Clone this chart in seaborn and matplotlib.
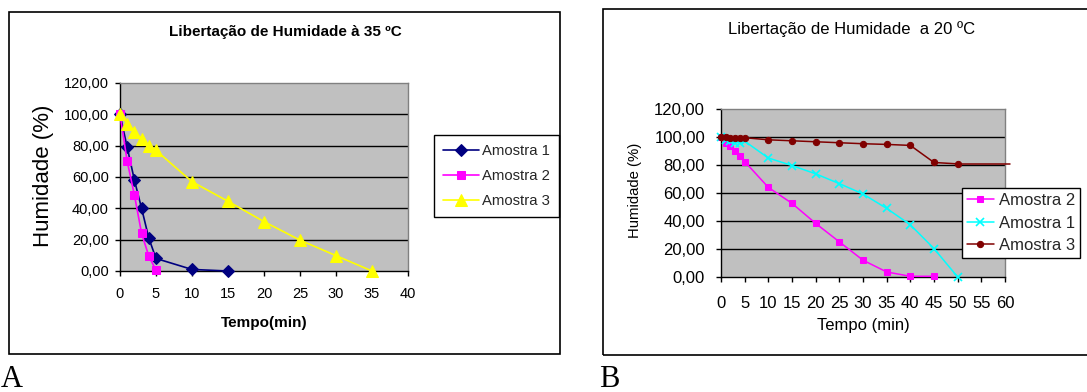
import matplotlib
matplotlib.use("Agg")
import matplotlib.pyplot as plt
from matplotlib.patches import Rectangle
from matplotlib.ticker import FuncFormatter
import seaborn as sns

sns.set_theme(style="white")
plt.rcParams['font.family'] = ['Liberation Sans', 'DejaVu Sans']

# ---------------- Data: chart A (35 ºC) ----------------
a_t1 = [0, 1, 2, 3, 4, 5, 10, 15]
a_y1 = [100, 79, 58, 40, 21, 8, 1, 0]
a_t2 = [0, 1, 2, 3, 4, 5]
a_y2 = [100, 70, 48.5, 24, 9.5, 0.5]
a_t3 = [0, 1, 2, 3, 4, 5, 10, 15, 20, 25, 30, 35]
a_y3 = [100, 94, 89, 84.5, 80, 77, 57, 44.5, 31.5, 19.7, 9.8, 0]

# ---------------- Data: chart B (20 ºC) ----------------
b_t2 = [0, 1, 2, 3, 4, 5, 10, 15, 20, 25, 30, 35, 40, 45]
b_y2 = [100, 96, 93.3, 90.2, 86.2, 82.5, 64, 52.6, 38.3, 25.1, 12, 3.6, 0.5, 0.5]
b_t1 = [0, 1, 2, 3, 4, 5, 10, 15, 20, 25, 30, 35, 40, 45, 50]
b_y1 = [100, 98, 97, 96, 96, 97, 85, 79.6, 73.7, 66.7, 59.3, 49, 37.3, 20.3, 0]
b_t3 = [0, 1, 2, 3, 4, 5, 10, 15, 20, 25, 30, 35, 40, 45, 50]
b_y3 = [100, 100, 99.5, 99.5, 99.5, 99.5, 98, 97.3, 96.6, 95.9, 95.2, 94.7, 94, 81.8, 80.8]
b_tail_t = [50, 61]
b_tail_y = [80.8, 80.8]

a_xticks = [0, 5, 10, 15, 20, 25, 30, 35, 40]
b_xticks = [0, 5, 10, 15, 20, 25, 30, 35, 40, 45, 50, 55, 60]
yticks = [0, 20, 40, 60, 80, 100, 120]

W, H = 1087, 392
fig = plt.figure(figsize=(W / 100, H / 100), dpi=100)
fig.patch.set_facecolor('white')


def px_axes(l, t, r, b):
    return fig.add_axes([l / W, 1 - b / H, (r - l) / W, (b - t) / H])


comma_fmt = FuncFormatter(lambda v, p: f"{v:.2f}".replace('.', ','))


def style_axes(ax, xticks, xmax, tick_fs, xpad, ypad):
    ax.set_facecolor('#C0C0C0')
    ax.set_xlim(0, xmax)
    ax.set_ylim(0, 120)
    ax.set_xticks(xticks)
    ax.set_yticks(yticks)
    ax.yaxis.set_major_formatter(comma_fmt)
    ax.grid(False)
    for v in yticks[1:-1]:
        ax.axhline(v, color='black', lw=1.0, zorder=1)
    for s in ['left', 'bottom']:
        ax.spines[s].set_color('black')
        ax.spines[s].set_linewidth(1.0)
    for s in ['top', 'right']:
        ax.spines[s].set_color('#808080')
        ax.spines[s].set_linewidth(1.0)
    ax.tick_params(axis='both', direction='out', length=3.5, width=1,
                   color='black', labelsize=tick_fs, labelcolor='black')
    ax.tick_params(axis='x', pad=xpad, bottom=True)
    ax.tick_params(axis='y', pad=ypad, left=True)


# ---------------- Chart A ----------------
fig.patches.append(Rectangle((9 / W, 1 - 354 / H), (560 - 9) / W, (354 - 11.7) / H,
                             transform=fig.transFigure, fill=False,
                             edgecolor='black', lw=1.2))
axA = px_axes(120, 83, 408, 271)
style_axes(axA, a_xticks, 40, 10.5, 8, 4.5)

sns.lineplot(x=a_t1, y=a_y1, ax=axA, color='#000080', marker='D', markersize=6,
             markeredgecolor='#000080', lw=1.2, label='Amostra 1', zorder=3, clip_on=False)
sns.lineplot(x=a_t2, y=a_y2, ax=axA, color='#FF00FF', marker='s', markersize=6,
             markeredgecolor='#FF00FF', lw=1.2, label='Amostra 2', zorder=3, clip_on=False)
sns.lineplot(x=a_t3, y=a_y3, ax=axA, color='#FFFF00', marker='^', markersize=8,
             markeredgecolor='#FFFF00', lw=1.2, label='Amostra 3', zorder=3, clip_on=False)

axA.set_xlabel('Tempo(min)', fontsize=11, fontweight='bold', color='black')
axA.set_ylabel('Humidade (%)', fontsize=16, color='black')
axA.xaxis.set_label_coords(0.5, -0.277)
axA.xaxis.label.set_va('center')
axA.yaxis.set_label_coords(-0.267, 0.505)
axA.yaxis.label.set_va('center')

legA = axA.legend(loc='upper left', bbox_to_anchor=(434 / W, 1 - 135 / H),
                  bbox_transform=fig.transFigure, borderaxespad=0, fontsize=10.7,
                  frameon=True, fancybox=False, edgecolor='black', framealpha=1,
                  handlelength=2.4, labelspacing=0.75, borderpad=0.6, handletextpad=0.25)
legA.get_frame().set_linewidth(1.0)

fig.text(285 / W, 1 - 32 / H, 'Libertação de Humidade à 35 ºC', ha='center', va='center',
         fontsize=11, fontweight='bold', color='black')

# ---------------- Chart B ----------------
fig.patches.append(Rectangle((602.7 / W, 1 - 355 / H), (1120 - 602.7) / W, (355 - 9.3) / H,
                             transform=fig.transFigure, fill=False,
                             edgecolor='black', lw=1.2))
axB = px_axes(721, 109, 1005, 277)
style_axes(axB, b_xticks, 60, 12, 10, 8)

sns.lineplot(x=b_t2, y=b_y2, ax=axB, color='#FF00FF', marker='s', markersize=5,
             markeredgecolor='#FF00FF', lw=1.1, label='Amostra 2', zorder=3, clip_on=False)
sns.lineplot(x=b_t1, y=b_y1, ax=axB, color='#00FFFF', marker='x', markersize=6,
             markeredgecolor='#00FFFF', markeredgewidth=1.2, lw=1.1, label='Amostra 1',
             zorder=3, clip_on=False)
sns.lineplot(x=b_t3, y=b_y3, ax=axB, color='#800000', marker='o', markersize=4.5,
             markeredgecolor='#800000', lw=1.1, label='Amostra 3', zorder=3, clip_on=False)
axB.plot(b_tail_t, b_tail_y, color='#800000', lw=1.1, zorder=3, clip_on=False)

axB.set_xlabel('Tempo (min)', fontsize=12, color='black')
axB.set_ylabel('Humidade (%)', fontsize=10.7, color='black')
axB.xaxis.set_label_coords(0.5, -0.286)
axB.xaxis.label.set_va('center')
axB.yaxis.set_label_coords(-0.303, 0.515)
axB.yaxis.label.set_va('center')

legB = axB.legend(loc='upper left', bbox_to_anchor=(962 / W, 1 - 188 / H),
                  bbox_transform=fig.transFigure, borderaxespad=0, fontsize=12,
                  frameon=True, fancybox=False, edgecolor='black', framealpha=1,
                  handlelength=1.6, labelspacing=0.45, borderpad=0.3, handletextpad=0.3)
legB.get_frame().set_linewidth(1.0)

fig.text(852 / W, 1 - 29 / H, 'Libertação de Humidade  a 20 ºC', ha='center', va='center',
         fontsize=12, color='black')

# ---------------- Panel letters ----------------
fig.text(1 / W, 1 - 387 / H, 'A', ha='left', va='baseline', fontsize=22,
         family='Liberation Serif', color='black')
fig.text(599 / W, 1 - 387 / H, 'B', ha='left', va='baseline', fontsize=22,
         family='Liberation Serif', color='black')

fig.savefig('out.png', dpi=100)
